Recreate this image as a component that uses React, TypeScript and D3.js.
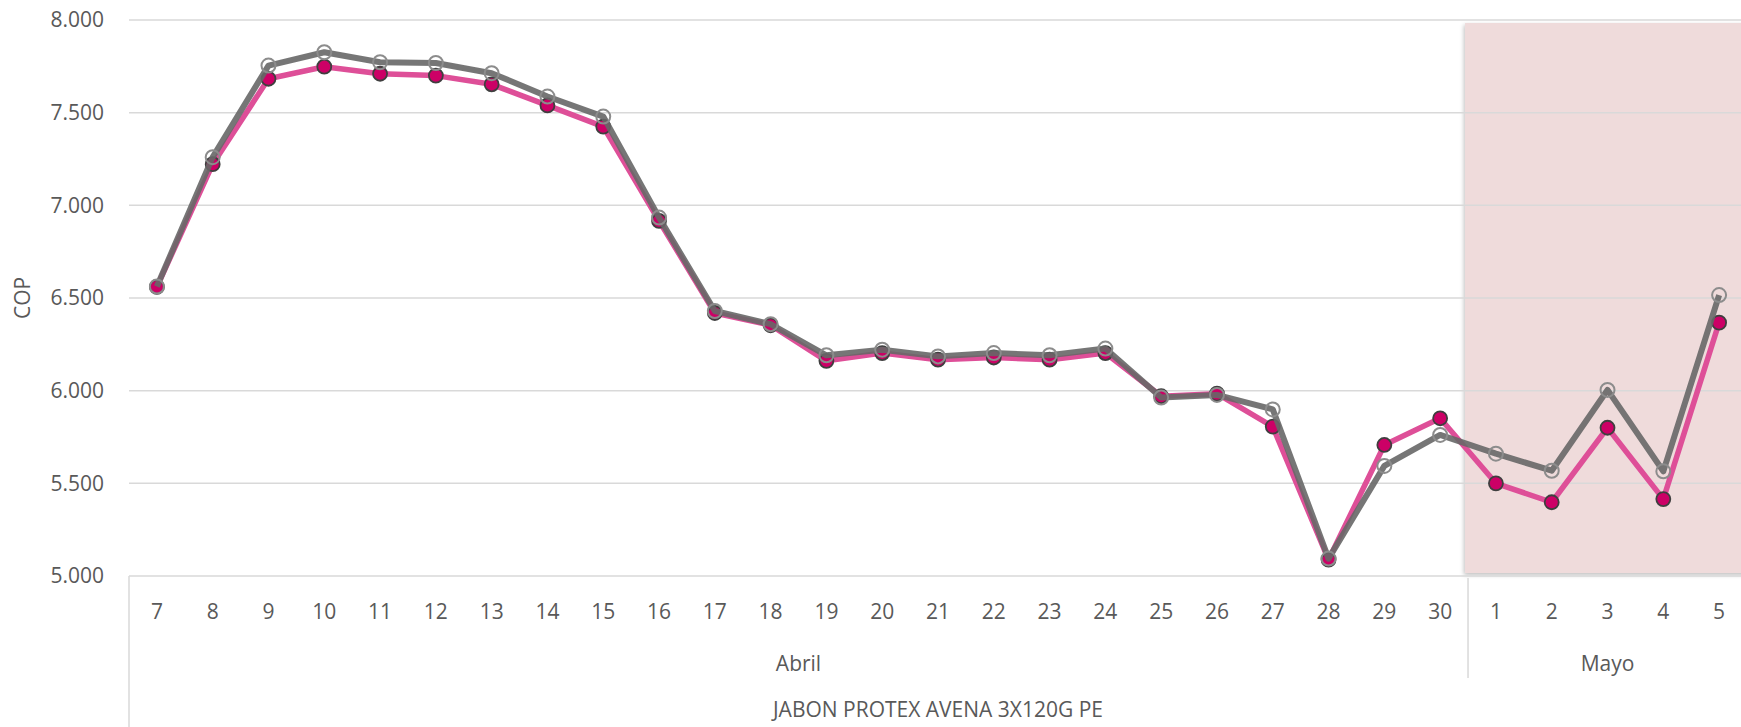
import React, { useEffect, useRef } from 'react'
import { select, scaleBand, scaleLinear, line } from 'd3'

// categorias (dia + mes)
const days = ['7', '8', '9', '10', '11', '12', '13', '14', '15', '16', '17', '18', '19', '20', '21', '22', '23', '24', '25', '26', '27', '28', '29', '30', '1', '2', '3', '4', '5']
const months = ['Abril', 'Abril', 'Abril', 'Abril', 'Abril', 'Abril', 'Abril', 'Abril', 'Abril', 'Abril', 'Abril', 'Abril', 'Abril', 'Abril', 'Abril', 'Abril', 'Abril', 'Abril', 'Abril', 'Abril', 'Abril', 'Abril', 'Abril', 'Abril', 'Mayo', 'Mayo', 'Mayo', 'Mayo', 'Mayo']
const product = 'JABON PROTEX AVENA 3X120G PE'

const serieRosa = [6560, 7222, 7683, 7748, 7710, 7700, 7653, 7539, 7425, 6916, 6419, 6353, 6161, 6203, 6167, 6179, 6167, 6203, 5970, 5984, 5806, 5088, 5707, 5851, 5500, 5398, 5800, 5415, 6367]
const serieGris = [6562, 7260, 7754, 7826, 7772, 7768, 7713, 7587, 7479, 6934, 6430, 6359, 6191, 6221, 6185, 6203, 6191, 6227, 5963, 5977, 5899, 5094, 5594, 5761, 5660, 5568, 6004, 5565, 6516]

const yTicks = [5000, 5500, 6000, 6500, 7000, 7500, 8000]

const W = 1741
const H = 727
const FONT = '"Open Sans", "Noto Sans", sans-serif'
const TXT = '#595959'

const fmt = (v: number) => (v / 1000).toFixed(3)

export default function App() {
  const svgRef = useRef<SVGSVGElement>(null)

  useEffect(() => {
    const keys = days.map((d, i) => months[i] + '-' + d)
    const x = scaleBand<string>().domain(keys).range([129, 1747]).padding(0)
    const y = scaleLinear().domain([5000, 8000]).range([576, 20])
    const cx = (i: number) => (x(keys[i]) as number) + x.bandwidth() / 2

    const svg = select(svgRef.current)
    svg.selectAll('*').remove()

    const defs = svg.append('defs')
    const f = defs.append('filter').attr('id', 'sh').attr('x', '-5%').attr('y', '-5%').attr('width', '110%').attr('height', '110%')
    f.append('feDropShadow').attr('dx', -1).attr('dy', 2).attr('stdDeviation', 2).attr('flood-color', '#000').attr('flood-opacity', 0.25)

    // zona sombreada (Mayo)
    const firstMayo = months.indexOf('Mayo')
    svg.append('rect')
      .attr('x', (x(keys[firstMayo]) as number) - 3)
      .attr('y', y(8000) + 3)
      .attr('width', W - (x(keys[firstMayo]) as number) + 10)
      .attr('height', y(5000) - y(8000) - 6)
      .attr('fill', '#EFDBDB')
      .attr('filter', 'url(#sh)')

    // grid
    svg.selectAll('line.grid')
      .data(yTicks)
      .join('line')
      .attr('class', 'grid')
      .attr('x1', 129).attr('x2', W)
      .attr('y1', d => y(d)).attr('y2', d => y(d))
      .attr('stroke', '#D9D9D9')
      .attr('stroke-width', 1.5)

    svg.selectAll('text.ytick')
      .data(yTicks)
      .join('text')
      .attr('class', 'ytick')
      .attr('x', 104)
      .attr('y', d => y(d))
      .attr('dy', '0.35em')
      .attr('text-anchor', 'end')
      .attr('font-family', FONT)
      .attr('font-size', 21)
      .attr('fill', TXT)
      .text(d => fmt(d))

    svg.append('text')
      .attr('transform', `translate(30,${y(6500)}) rotate(-90)`)
      .attr('text-anchor', 'middle')
      .attr('font-family', FONT)
      .attr('font-size', 21)
      .attr('fill', TXT)
      .text('COP')

    // eje x multinivel
    svg.append('line').attr('x1', 129).attr('x2', 129).attr('y1', y(5000)).attr('y2', H).attr('stroke', '#D9D9D9').attr('stroke-width', 1.5)
    const sepX = x(keys[firstMayo]) as number
    svg.append('line').attr('x1', sepX).attr('x2', sepX).attr('y1', y(5000) + 2).attr('y2', 678).attr('stroke', '#D9D9D9').attr('stroke-width', 1.5)

    svg.selectAll('text.day')
      .data(days)
      .join('text')
      .attr('class', 'day')
      .attr('x', (d, i) => cx(i))
      .attr('y', 612)
      .attr('dy', '0.35em')
      .attr('text-anchor', 'middle')
      .attr('font-family', FONT)
      .attr('font-size', 21)
      .attr('fill', TXT)
      .text(d => d)

    const monthNames = Array.from(new Set(months))
    svg.selectAll('text.month')
      .data(monthNames)
      .join('text')
      .attr('class', 'month')
      .attr('x', m => {
        const a = months.indexOf(m)
        const b = months.lastIndexOf(m)
        return ((x(keys[a]) as number) + (x(keys[b]) as number) + x.bandwidth()) / 2
      })
      .attr('y', 664)
      .attr('dy', '0.35em')
      .attr('text-anchor', 'middle')
      .attr('font-family', FONT)
      .attr('font-size', 21)
      .attr('fill', TXT)
      .text(m => m)

    svg.append('text')
      .attr('x', (129 + (x(keys[keys.length - 1]) as number) + x.bandwidth()) / 2)
      .attr('y', 710)
      .attr('dy', '0.35em')
      .attr('text-anchor', 'middle')
      .attr('font-family', FONT)
      .attr('font-size', 21)
      .attr('fill', TXT)
      .text(product)

    // lineas
    const mk = line<number>().x((d, i) => cx(i)).y(d => y(d))

    svg.append('path')
      .attr('d', mk(serieRosa))
      .attr('fill', 'none')
      .attr('stroke', '#DE4F98')
      .attr('stroke-width', 5.5)
      .attr('stroke-linejoin', 'round')

    svg.selectAll('circle.rosa')
      .data(serieRosa)
      .join('circle')
      .attr('class', 'rosa')
      .attr('cx', (d, i) => cx(i))
      .attr('cy', d => y(d))
      .attr('r', 7)
      .attr('fill', '#CC0066')
      .attr('stroke', '#3F3F3F')
      .attr('stroke-width', 1.8)

    svg.append('path')
      .attr('d', mk(serieGris))
      .attr('fill', 'none')
      .attr('stroke', '#676767')
      .attr('stroke-opacity', 0.9)
      .attr('stroke-width', 6)
      .attr('stroke-linejoin', 'round')

    svg.selectAll('circle.gris')
      .data(serieGris)
      .join('circle')
      .attr('class', 'gris')
      .attr('cx', (d, i) => cx(i))
      .attr('cy', d => y(d))
      .attr('r', 7)
      .attr('fill', 'none')
      .attr('stroke', '#8C8C8C')
      .attr('stroke-width', 2)
  }, [])

  return (
    <div style={{ position: 'absolute', left: 0, top: 0 }}>
      <svg width={W} height={H} ref={svgRef} style={{ display: 'block', background: '#fff' }}></svg>
    </div>
  )
}
